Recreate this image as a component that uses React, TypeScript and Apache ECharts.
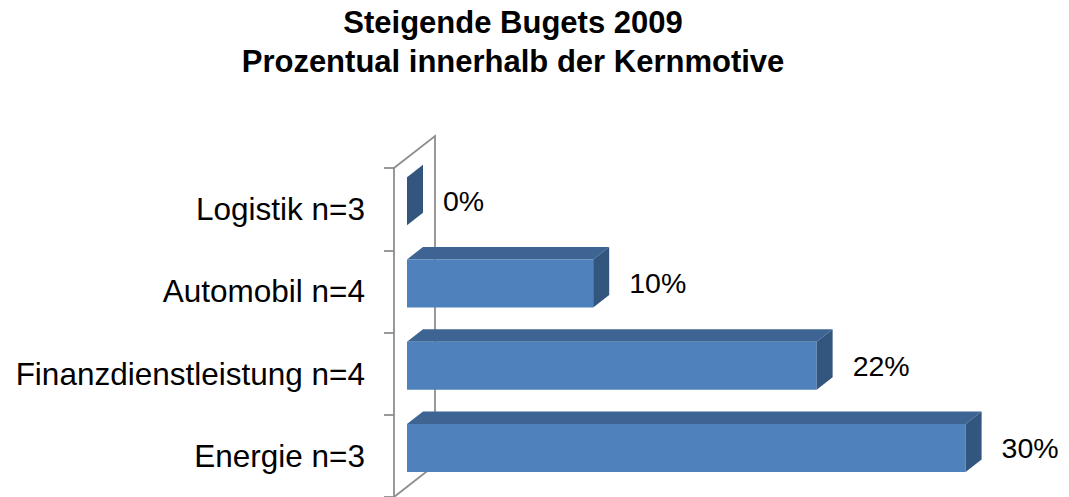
import React, { useEffect, useRef } from "react";
import * as echarts from "echarts";

const titleLines = ["Steigende Bugets 2009", "Prozentual innerhalb der Kernmotive"];
const categories = ["Energie n=3", "Finanzdienstleistung n=4", "Automobil n=4", "Logistik n=3"];
const values = [30, 22, 10, 0];
const valueLabels = ["30%", "22%", "10%", "0%"];

const FONT = "'Liberation Sans', Arial, sans-serif";
const FRONT = "#4F81BD";
const TOP = "#3D6492";
const SIDE = "#33567F";
const WALL = "#8e8e8e";

// 3D projection constants
const WALL_DX = 41;
const WALL_DY = -32;
const BAR_OFF_X = 13;
const BAR_OFF_Y = -8;
const DEPTH_X = 16;
const DEPTH_Y = -12.5;
const BAR_H = 48;

export default function App() {
  const ref = useRef<HTMLDivElement>(null);

  useEffect(() => {
    if (!ref.current) return;
    const chart = echarts.init(ref.current, undefined, { renderer: "svg" });

    const option: any = {
      animation: false,
      backgroundColor: "#ffffff",
      graphic: [
        {
          type: "text",
          x: 513,
          y: 22.5,
          style: {
            text: titleLines[0],
            font: `bold 31px ${FONT}`,
            fill: "#000",
            textAlign: "center",
            textVerticalAlign: "middle",
          },
        },
        {
          type: "text",
          x: 513,
          y: 61,
          style: {
            text: titleLines[1],
            font: `bold 31px ${FONT}`,
            fill: "#000",
            textAlign: "center",
            textVerticalAlign: "middle",
          },
        },
      ],
      grid: { left: 394, top: 168, width: 651.7, height: 332 },
      xAxis: { type: "value", min: 0, max: 35, show: false },
      yAxis: {
        type: "category",
        data: categories,
        axisLine: { show: true, lineStyle: { color: WALL, width: 1.8 } },
        axisTick: { show: true, length: 10, lineStyle: { color: WALL, width: 1.8 } },
        axisLabel: { fontSize: 31.5, color: "#000", margin: 29, fontFamily: FONT },
        splitLine: { show: false },
      },
      series: [
        {
          type: "custom",
          z: 1,
          silent: true,
          data: [[0, 0]],
          renderItem: (params: any) => {
            const cs = params.coordSys;
            const x = cs.x;
            const y = cs.y;
            const h = cs.height;
            return {
              type: "polyline",
              shape: {
                points: [
                  [x, y],
                  [x + WALL_DX, y + WALL_DY],
                  [x + WALL_DX, y + h + WALL_DY],
                  [x, y + h],
                ],
              },
              style: { stroke: WALL, lineWidth: 1.8, fill: "none" },
            };
          },
        },
        {
          type: "custom",
          z: 2,
          silent: true,
          data: values.map((v, i) => [v, i]),
          encode: { x: 0, y: 1 },
          renderItem: (params: any, api: any) => {
            const v = api.value(0);
            const ci = api.value(1);
            const p0 = api.coord([0, ci]);
            const p1 = api.coord([v, ci]);
            const x0 = p0[0] + BAR_OFF_X;
            const x1 = p1[0] + BAR_OFF_X;
            const yc = p0[1] + BAR_OFF_Y;
            const yt = yc - BAR_H / 2;
            const yb = yc + BAR_H / 2;
            const children: any[] = [];
            if (x1 - x0 > 0.5) {
              children.push({
                type: "polygon",
                shape: {
                  points: [
                    [x0, yt],
                    [x1, yt],
                    [x1 + DEPTH_X, yt + DEPTH_Y],
                    [x0 + DEPTH_X, yt + DEPTH_Y],
                  ],
                },
                style: { fill: TOP },
              });
              children.push({
                type: "rect",
                shape: { x: x0, y: yt, width: x1 - x0, height: BAR_H },
                style: { fill: FRONT },
              });
            }
            children.push({
              type: "polygon",
              shape: {
                points: [
                  [x1, yt],
                  [x1 + DEPTH_X, yt + DEPTH_Y],
                  [x1 + DEPTH_X, yb + DEPTH_Y],
                  [x1, yb],
                ],
              },
              style: { fill: SIDE },
            });
            children.push({
              type: "text",
              x: x1 + 36,
              y: yc,
              style: {
                text: valueLabels[params.dataIndex],
                font: `28.5px ${FONT}`,
                fill: "#000",
                textAlign: "left",
                textVerticalAlign: "middle",
              },
            });
            return { type: "group", children };
          },
        },
      ],
    };

    chart.setOption(option);
    return () => chart.dispose();
  }, []);

  return (
    <div
      ref={ref}
      style={{ position: "fixed", left: 0, top: 0, width: 1069, height: 497, background: "#fff" }}
    />
  );
}
